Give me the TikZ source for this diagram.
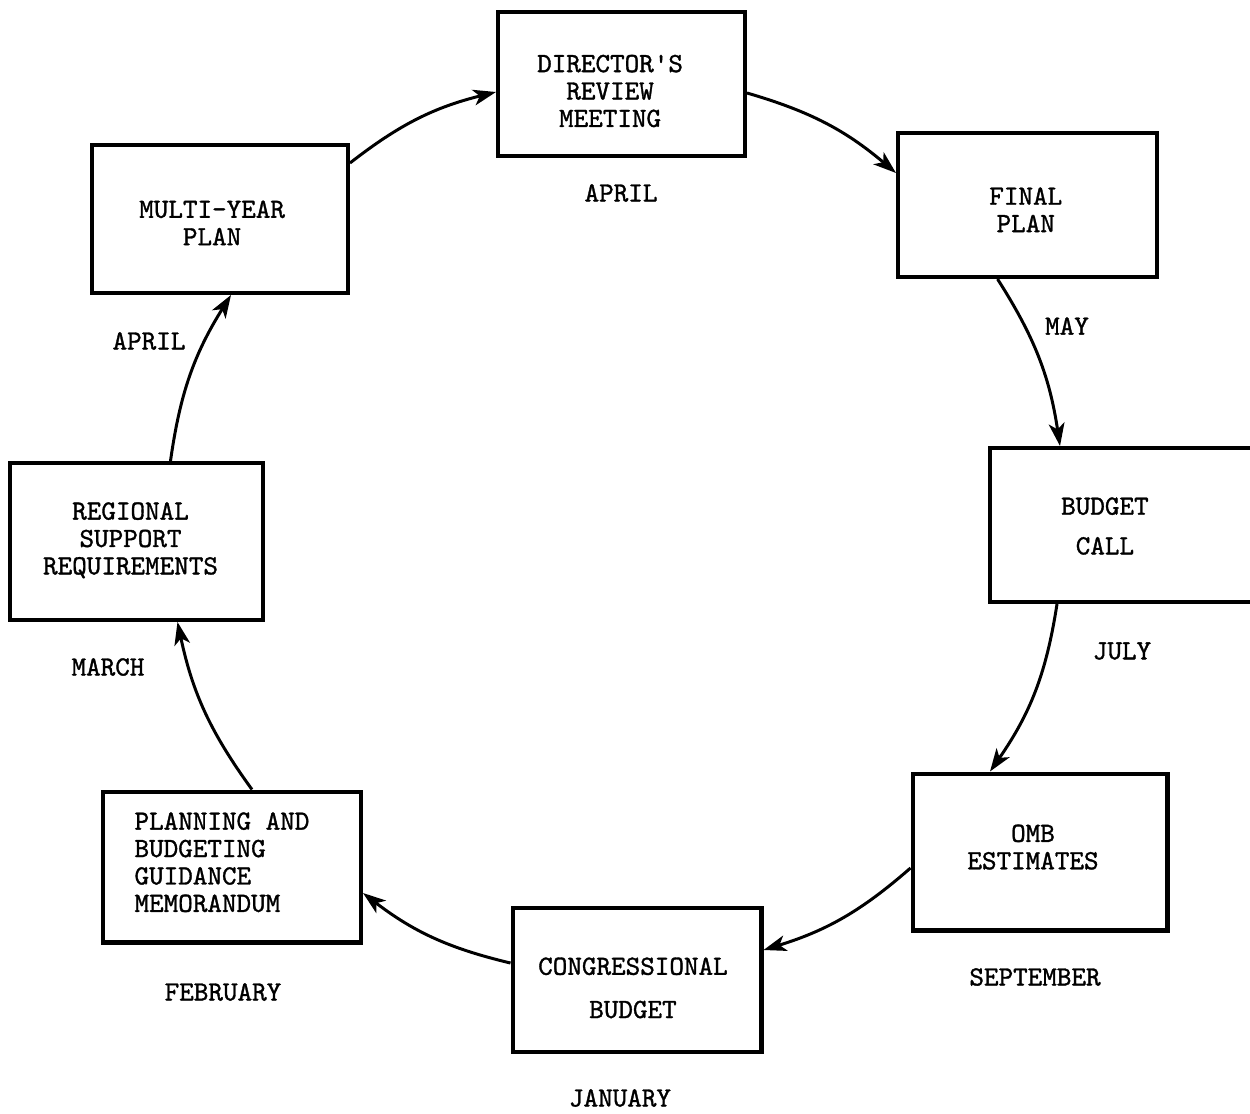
\documentclass[tikz,border=0pt]{standalone}
\usepackage{fontspec}
\newfontfamily\tw[FakeBold=1.2]{lmmono10-regular.otf}
\usetikzlibrary{arrows.meta,calc}
\newcommand{\boxtext}[4]{\hspace*{#1}\raisebox{#2}[\height][\depth]{\begin{tabular}{@{}#3@{}}#4\end{tabular}}\hspace*{-#1}}
\tikzset{
  box/.style={draw, line width=2.3pt, rectangle, inner sep=0pt,
    font=\tw\fontsize{15.8}{15.6}\selectfont},
  lbl/.style={font=\tw\fontsize{15.8}{15.6}\selectfont, inner sep=0pt},
  arr/.style={-{Stealth[length=13pt,width=9pt,inset=3.5pt]}, line width=1.7pt},
}
\begin{document}
\begin{tikzpicture}[x=0.02cm,y=-0.02cm]
\clip (0,0) rectangle (1250,1113);
\fill[white] (0,0) rectangle (1250,1113);
% boxes
\node[box, minimum width=4.94cm, minimum height=2.88cm] (dir) at (621.5,84) {\boxtext{-6.5pt}{-5.7pt}{c}{DIRECTOR'S\\REVIEW\\MEETING}};
\node[box, minimum width=5.18cm, minimum height=2.88cm] (fp) at (1027.5,205) {\boxtext{-1pt}{-4.5pt}{c}{FINAL\\PLAN}};
\node[box, minimum width=5.44cm, minimum height=3.08cm] (bc) at (1126,525) {\boxtext{-12pt}{-2.3pt}{c}{BUDGET\\[7pt]CALL}};
\node[box, minimum width=5.10cm, minimum height=3.14cm] (omb) at (1040,852) {\boxtext{-4pt}{1.1pt}{c}{OMB\\ESTIMATES}};
\node[box, minimum width=4.98cm, minimum height=2.88cm] (cb) at (637,980) {\boxtext{-2.3pt}{-6.2pt}{c}{CONGRESSIONAL\\[9pt]BUDGET}};
\node[box, minimum width=5.16cm, minimum height=3.02cm] (pl) at (232,867) {\boxtext{-5.7pt}{1pt}{l}{PLANNING AND\\BUDGETING\\GUIDANCE\\MEMORANDUM}};
\node[box, minimum width=5.06cm, minimum height=3.14cm] (rg) at (136.5,541.5) {\boxtext{-3.4pt}{0pt}{c}{REGIONAL\\SUPPORT\\REQUIREMENTS}};
\node[box, minimum width=5.12cm, minimum height=2.96cm] (my) at (220,219) {\boxtext{-4.5pt}{-4pt}{c}{MULTI-YEAR\\PLAN}};
% month labels
\node[lbl] (mApr1) at (621,193) {APRIL};
\node[lbl] (mMay) at (1067,326) {MAY};
\node[lbl] (mJul) at (1122,651) {JULY};
\node[lbl] (mSep) at (1035,977) {SEPTEMBER};
\node[lbl] (mJan) at (620,1098) {JANUARY};
\node[lbl] (mFeb) at (223,992) {FEBRUARY};
\node[lbl] (mMar) at (108,667) {MARCH};
\node[lbl] (mApr2) at (149,341) {APRIL};
% connectors
\draw[arr] ($(my.east)+(0,-56)$) to[bend left=12] ($(dir.west)+(0,8)$);
\draw[arr] ($(dir.east)+(0,9)$) to[bend left=12] ($(fp.west)+(0,-32)$);
\draw[arr] ($(fp.south)+(-30,0)$) to[bend left=12] ($(bc.north)+(-66,0)$);
\draw[arr] ($(bc.south)+(-69,0)$) to[bend left=13] ($(omb.north)+(-50,0)$);
\draw[arr] ($(omb.west)+(0,16)$) to[bend left=12] ($(cb.east)+(0,-30)$);
\draw[arr] ($(cb.west)+(0,-17)$) to[bend left=12] ($(pl.east)+(0,26)$);
\draw[arr] ($(pl.north)+(20,0)$) to[bend left=12] ($(rg.south)+(41,0)$);
\draw[arr] ($(rg.north)+(34,0)$) to[bend left=12] ($(my.south)+(11,0)$);
\end{tikzpicture}
\end{document}
